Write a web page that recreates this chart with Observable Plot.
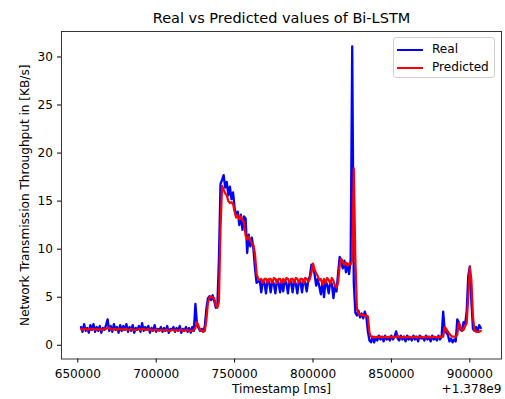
<!DOCTYPE html>
<html>
<head>
<meta charset="utf-8">
<script src="https://cdn.jsdelivr.net/npm/d3@7"></script>
<script src="https://cdn.jsdelivr.net/npm/@observablehq/plot@0.6"></script>
<style>
  html, body { margin: 0; padding: 0; background: white; }
  #wrap { position: relative; width: 505px; height: 399px; font-family: "DejaVu Sans", sans-serif; }
  #legend { position: absolute; left: 393px; top: 37px; width: 100px; height: 39px;
            border: 1px solid #d0d0d0; border-radius: 3px; background: rgba(255,255,255,0.8);
            font-size: 12.1px; color: #000; }
  .row { position: absolute; left: 0; height: 14px; }
  .sw { position: absolute; left: 3px; width: 26px; height: 2px; }
  .lab { position: absolute; left: 38px; top: -7px; white-space: nowrap; line-height: 14px; }
</style>
</head>
<body>
<div id="wrap"><div id="legend"></div></div>
<script>
// ---- data (timestamps are ms offsets from 1.378e9, sampled every second) ----
const title = "Real vs Predicted values of Bi-LSTM";
const xLabel = "Timestamp [ms]";
const yLabel = "Network Transmission Throughput in [KB/s]";
const xOffsetLabel = "+1.378e9";
const seriesNames = ["Real", "Predicted"];
const seriesColors = ["blue", "red"];
const xTicks = [650000, 700000, 750000, 800000, 850000, 900000];
const yTicks = [0, 5, 10, 15, 20, 25, 30];
const startMs = 652000;
const stepMs = 1000;

const real = [
  1.9, 1.4, 2.2, 1.5, 1.8, 1.3, 2.1, 1.6, 2.2, 1.4,
  1.9, 1.5, 2.0, 1.3, 1.8, 1.6, 2.1, 2.7, 1.5, 2.0,
  1.4, 2.2, 1.6, 1.9, 1.3, 2.1, 1.5, 2.0, 1.6, 2.2,
  1.4, 1.9, 1.5, 2.1, 1.3, 1.8, 1.6, 2.0, 1.4, 2.3,
  1.5, 1.9, 1.6, 2.0, 1.3, 1.8, 1.5, 2.1, 1.4, 1.7,
  1.6, 1.9, 1.4, 1.8, 1.5, 2.0, 1.3, 1.7, 1.6, 1.9,
  1.4, 1.8, 1.5, 2.0, 1.3, 1.7, 1.5, 1.9, 1.4, 1.8,
  1.3, 1.9, 1.5, 4.3, 2.2, 1.8, 1.5, 1.7, 1.4, 2.0,
  3.8, 4.9, 5.1, 4.7, 5.2, 4.6, 3.9, 4.1, 9.0, 16.8,
  17.2, 17.7, 16.4, 17.0, 15.6, 16.5, 15.2, 15.9, 14.3, 13.4,
  13.9, 12.5, 13.6, 12.0, 13.4, 13.2, 9.6, 11.5, 10.3, 11.2,
  10.0, 8.0, 6.5, 6.6, 6.8, 5.5, 6.7, 6.5, 5.4, 6.8,
  6.6, 5.5, 6.7, 6.4, 5.4, 6.8, 6.5, 5.5, 6.7, 5.6,
  6.8, 6.5, 5.4, 6.7, 6.6, 5.5, 6.8, 6.4, 5.4, 6.7,
  6.6, 5.5, 6.8, 6.5, 5.6, 6.8, 7.2, 8.4, 8.0, 7.4,
  6.2, 6.9, 6.1, 5.3, 6.6, 5.0, 6.7, 6.3, 5.4, 6.6,
  6.4, 4.9, 6.2, 5.6, 7.5, 9.2, 8.6, 8.0, 8.8, 7.6,
  8.5, 7.4, 8.9, 31.1, 6.5, 3.4, 3.1, 3.6, 2.9, 3.3,
  2.8, 3.5, 3.0, 1.4, 0.5, 0.3, 0.9, 0.3, 0.8, 0.5,
  1.0, 0.6, 0.9, 0.4, 1.0, 0.6, 0.8, 0.5, 1.0, 0.6,
  0.9, 1.45, 0.7, 0.5, 1.0, 0.6, 0.9, 0.4, 1.0, 0.6,
  0.8, 0.5, 1.0, 0.6, 0.9, 0.4, 1.0, 0.7, 0.8, 0.5,
  1.0, 0.6, 0.9, 0.4, 1.0, 0.6, 0.8, 0.5, 1.0, 0.6,
  0.9, 3.5, 1.5, 1.3, 1.1, 0.4, 0.7, 0.3, 0.6, 0.4,
  2.7, 2.4, 1.6, 1.5, 2.4, 2.2, 3.5, 7.2, 8.2, 4.5,
  1.7, 1.5, 1.9, 1.4, 2.1, 1.8
];

const predicted = [
  1.7, 1.6, 1.7, 1.7, 1.6, 1.7, 1.6, 1.7, 1.7, 1.6,
  1.7, 1.6, 1.7, 1.6, 1.6, 1.7, 1.7, 1.8, 1.8, 1.7,
  1.6, 1.7, 1.7, 1.6, 1.7, 1.6, 1.7, 1.6, 1.7, 1.7,
  1.6, 1.6, 1.7, 1.6, 1.6, 1.6, 1.6, 1.7, 1.6, 1.7,
  1.7, 1.6, 1.6, 1.7, 1.6, 1.6, 1.5, 1.6, 1.6, 1.6,
  1.5, 1.6, 1.6, 1.5, 1.6, 1.6, 1.5, 1.5, 1.6, 1.6,
  1.5, 1.6, 1.5, 1.6, 1.6, 1.5, 1.5, 1.6, 1.6, 1.5,
  1.5, 1.5, 1.6, 1.8, 2.4, 2.0, 1.6, 1.5, 1.4, 1.5,
  2.6, 4.4, 5.0, 5.1, 5.0, 4.9, 4.2, 3.9, 4.5, 12.0,
  16.6, 16.2, 15.8, 15.6, 15.0, 14.8, 14.9, 14.7, 13.9, 13.3,
  13.5, 13.1, 13.4, 13.0, 12.8, 11.4, 11.0, 11.3, 10.9, 10.6,
  10.4, 9.5, 7.5, 6.9, 6.8, 6.9, 6.5, 6.9, 6.9, 6.5,
  6.9, 6.9, 6.5, 7.0, 6.9, 6.5, 6.9, 6.9, 6.5, 6.9,
  6.6, 7.0, 6.9, 6.5, 6.9, 6.9, 6.5, 7.0, 6.9, 6.5,
  6.9, 6.9, 6.5, 7.0, 6.9, 6.6, 6.9, 7.6, 8.5, 7.9,
  7.5, 7.2, 6.8, 6.9, 6.3, 6.9, 6.5, 7.0, 6.8, 6.4,
  7.0, 6.7, 6.2, 6.0, 6.5, 8.3, 9.0, 8.7, 8.4, 8.6,
  8.3, 8.5, 8.4, 8.8, 18.4, 9.0, 3.8, 3.3, 3.2, 3.1,
  3.2, 3.0, 3.1, 3.0, 1.3, 0.9, 0.8, 0.9, 0.8, 0.9,
  0.85, 0.9, 0.8, 0.85, 0.9, 0.8, 0.85, 0.9, 0.85, 0.8,
  0.85, 0.9, 1.0, 0.85, 0.8, 0.85, 0.9, 0.8, 0.85, 0.9,
  0.85, 0.8, 0.85, 0.9, 0.85, 0.8, 0.85, 0.9, 0.85, 0.8,
  0.85, 0.9, 0.85, 0.8, 0.85, 0.9, 0.85, 0.8, 0.85, 0.9,
  0.85, 0.9, 1.9, 1.7, 1.4, 1.2, 1.0, 0.9, 0.9, 0.9,
  1.1, 2.3, 2.0, 1.5, 1.6, 2.0, 2.3, 5.0, 8.1, 6.8,
  3.0, 1.5, 1.4, 1.4, 1.4, 1.5
];

// ---- table built from the arrays ----
const rows = real.map((v, i) => ({ t: startMs + i * stepMs, real: v, pred: predicted[i] }));

const chart = Plot.plot({
  width: 505,
  height: 399,
  marginTop: 31,
  marginBottom: 40.5,
  marginLeft: 61,
  marginRight: 4,
  style: { fontFamily: "DejaVu Sans", fontSize: "12.1px", background: "white", color: "black", overflow: "visible" },
  x: { domain: [639600, 920200], ticks: xTicks, tickFormat: d => String(d), tickSize: 4, tickPadding: 6, label: null },
  y: { domain: [-1.43, 32.65], ticks: yTicks, tickSize: 4, tickPadding: 4.5, label: null },
  marks: [
    Plot.line(rows, { x: "t", y: "real", stroke: seriesColors[0], strokeWidth: 2.3 }),
    Plot.line(rows, { x: "t", y: "pred", stroke: seriesColors[1], strokeWidth: 2.2 }),
    Plot.frame({ stroke: "#222", strokeWidth: 0.9 }),
    Plot.text([title], { text: d => d, frameAnchor: "top", dy: -13, fontSize: 14.5, lineAnchor: "middle" }),
    Plot.text([xLabel], { text: d => d, frameAnchor: "bottom", dy: 30, fontSize: 12.1, lineAnchor: "middle" }),
    Plot.text([xOffsetLabel], { text: d => d, frameAnchor: "bottom-right", dy: 30, textAnchor: "end", fontSize: 12.1, lineAnchor: "middle" }),
    Plot.text([yLabel], { text: d => d, frameAnchor: "left", dx: -36, rotate: -90, textAnchor: "middle", lineAnchor: "middle", fontSize: 12.1 })
  ]
});
document.getElementById("wrap").prepend(chart);

// ---- legend ----
const legend = document.getElementById("legend");
seriesNames.forEach((name, i) => {
  const row = document.createElement("div");
  row.className = "row";
  row.style.top = (11 + i * 17.7) + "px";
  row.innerHTML = `<div class="sw" style="background:${seriesColors[i]}"></div><div class="lab">${name}</div>`;
  legend.appendChild(row);
});
</script>
</body>
</html>
